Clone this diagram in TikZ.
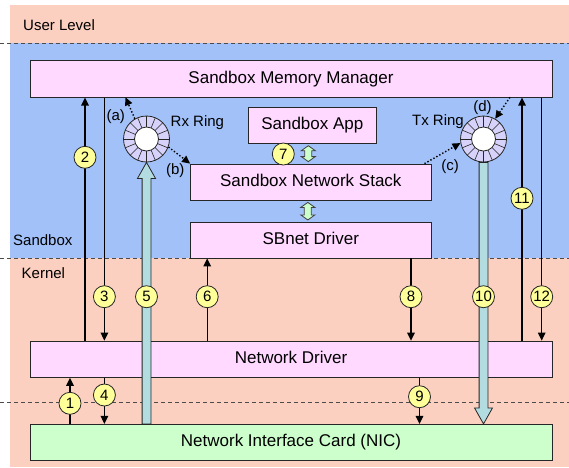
\documentclass[tikz,border=0pt]{standalone}
\usepackage{fontspec}
\setmainfont{Liberation Sans}
\usepackage{tikz}
\usetikzlibrary{arrows.meta, calc}
\definecolor{userpeach}{RGB}{251,208,192}
\definecolor{sbblue}{RGB}{161,193,248}
\definecolor{boxpink}{RGB}{255,217,255}
\definecolor{nicgreen}{RGB}{204,255,204}
\definecolor{badgeyellow}{RGB}{255,255,153}
\definecolor{ringlav}{RGB}{214,210,250}
\definecolor{fatcyan}{RGB}{178,220,224}

\begin{document}
\begin{tikzpicture}[
  x=1pt, y=-1pt,
  box/.style={draw=black!85, fill=boxpink, line width=0.8pt, inner sep=0pt,
              minimum height=36pt, text height=12.2pt, text depth=3.5pt,
              font=\fontsize{17}{20}\selectfont},
  badge/.style={circle, draw=black!85, fill=badgeyellow, minimum size=22pt,
                inner sep=0pt, line width=0.8pt, font=\fontsize{15}{18}\selectfont},
  lbl/.style={font=\fontsize{15}{18}\selectfont, inner sep=0pt},
  arrow/.style={-{Triangle[length=8pt,width=7.5pt]}, line width=1.3pt, black},
  dotarrow/.style={-{Triangle[length=8pt,width=7.5pt]}, line width=1.4pt, dotted, black},
  fatarrow/.style={draw=black!85, fill=fatcyan, line width=0.8pt},
  twoway/.style={draw=black!75, fill=nicgreen, line width=0.8pt},
  tierline/.style={dash pattern=on 4pt off 3pt, black!70, line width=0.8pt},
  ringnode/.style={circle, draw=black!85, fill=ringlav, minimum size=46pt,
                   inner sep=0pt, line width=0.8pt,
                   path picture={
                     \foreach \a in {0,22.5,...,337.5}
                       \draw[black!85, line width=0.6pt]
                         (path picture bounding box.center) ++(\a:12pt) -- ++(\a:11.5pt);
                     \draw[black!85, fill=white, line width=0.8pt]
                       (path picture bounding box.center) circle (12pt);
                   }}
]
\useasboundingbox (0,0) rectangle (569,467);

% Levels
\fill[userpeach] (10,5) rectangle (569,467);
\fill[sbblue] (10,43) rectangle (569,258);
\draw[tierline] (0,43) -- (569,43);
\draw[tierline] (0,258) -- (569,258);
\draw[tierline] (0,402) -- (569,402);
\node[lbl, anchor=base west] (userlbl) at (23,30.4) {User Level};
\node[lbl, anchor=base west] (sblbl) at (13,245.4) {Sandbox};
\node[lbl, anchor=base west] (kerlbl) at (21.5,278.7) {Kernel};

% Boxes
\node[box, minimum width=522pt, minimum height=37pt] (mm) at (291,78.7) {Sandbox Memory Manager};
\node[box, minimum width=128pt] (app) at (312.3,125.3) {Sandbox App};
\node[box, minimum width=240.5pt] (stack) at (310.8,182) {Sandbox Network Stack};
\node[box, minimum width=240.5pt, minimum height=35.7pt] (sbnet) at (310.8,240.2) {SBnet Driver};
\node[box, minimum width=522pt, minimum height=36.3pt] (nd) at (291,359.2) {Network Driver};
\node[box, fill=nicgreen, minimum width=522pt, minimum height=36.4pt] (nic) at (291,442.5) {Network Interface Card (NIC)};

% Rings
\node[ringnode] (rx) at (146.5,139) {};
\node[ringnode] (tx) at (483.5,139) {};
\node[lbl, anchor=base west] (rxlbl) at (170.5,126.6) {Rx Ring};
\node[lbl, anchor=base east] (txlbl) at (464,125.6) {Tx Ring};

% Step positions
\coordinate (p1) at (70,403.3);
\coordinate (p2) at (85,157.3);
\coordinate (p3) at (104.4,296.7);
\coordinate (p4) at (104.4,395);
\coordinate (p5) at (146.5,296.7);
\coordinate (p6) at (207.2,296.7);
\coordinate (p7) at (283.3,154);
\coordinate (p8) at (411,296.7);
\coordinate (p9) at (419.5,396.7);
\coordinate (p10) at (483.5,296.7);
\coordinate (p11) at (522,198.3);
\coordinate (p12) at (541.7,296.7);

% Plain arrows
\draw[arrow] (nic.north -| p1) -- (nd.south -| p1);
\draw[arrow] (nd.north -| p2) -- (mm.south -| p2);
\draw[arrow] (mm.south -| p3) -- (nd.north -| p3);
\draw[arrow] (nd.south -| p4) -- (nic.north -| p4);
\draw[arrow] (nd.north -| p6) -- (sbnet.south -| p6);
\draw[arrow] (sbnet.south -| p8) -- (nd.north -| p8);
\draw[arrow] (nd.south -| p9) -- (nic.north -| p9);
\draw[arrow] (nd.north -| p11) -- (mm.south -| p11);
\draw[arrow] (mm.south -| p12) -- (nd.north -| p12);

% Ring buffer arrows
\coordinate (atip) at (125.5,97.3);
\coordinate (dtail) at (510,97.3);
\draw[dotarrow] (rx.120) -- (atip);
\draw[dotarrow] (rx.-20) -- (stack.north west);
\draw[dotarrow] ([xshift=-7pt]stack.north east) -- (tx.190);
\draw[dotarrow] (dtail) -- (tx.60);
\node[lbl, anchor=base] (la) at (115.8,120) {(a)};
\node[lbl, anchor=base] (lb) at (175.3,174.5) {(b)};
\node[lbl, anchor=base] (lc) at (450,170) {(c)};
\node[lbl, anchor=base] (ld) at (482.5,111.5) {(d)};

% Fat data arrows
\draw[fatarrow] let \p1=(nic.north -| rx.south), \p2=(rx.south) in
  (\x2-4.4pt,\y1) -- (\x2-4.4pt,\y2-16pt) -- (\x2-9pt,\y2-16pt) -- (\x2,\y2)
  -- (\x2+9pt,\y2-16pt) -- (\x2+4.4pt,\y2-16pt) -- (\x2+4.4pt,\y1) -- cycle;
\draw[fatarrow] let \p1=(tx.south), \p2=(nic.north -| tx.south) in
  (\x2-4.4pt,\y1) -- (\x2-4.4pt,\y2+16pt) -- (\x2-9pt,\y2+16pt) -- (\x2,\y2)
  -- (\x2+9pt,\y2+16pt) -- (\x2+4.4pt,\y2+16pt) -- (\x2+4.4pt,\y1) -- cycle;

% Two-way arrows
\draw[twoway] let \p1=([xshift=-4pt]app.south), \p2=(stack.north) in
  (\x1,\y1-2pt) -- (\x1+7pt,\y1-7pt) -- (\x1+3.5pt,\y1-7pt) -- (\x1+3.5pt,\y2+7pt)
  -- (\x1+7pt,\y2+7pt) -- (\x1,\y2+2pt) -- (\x1-7pt,\y2+7pt) -- (\x1-3.5pt,\y2+7pt)
  -- (\x1-3.5pt,\y1-7pt) -- (\x1-7pt,\y1-7pt) -- cycle;
\draw[twoway] let \p1=([xshift=-3pt]stack.south), \p2=(sbnet.north) in
  (\x1,\y1-2pt) -- (\x1+7pt,\y1-7pt) -- (\x1+3.5pt,\y1-7pt) -- (\x1+3.5pt,\y2+7pt)
  -- (\x1+7pt,\y2+7pt) -- (\x1,\y2+2pt) -- (\x1-7pt,\y2+7pt) -- (\x1-3.5pt,\y2+7pt)
  -- (\x1-3.5pt,\y1-7pt) -- (\x1-7pt,\y1-7pt) -- cycle;

% Step numbers
\foreach \i in {1,...,12}
  \node[badge] (n\i) at (p\i) {\i};

\end{tikzpicture}
\end{document}
